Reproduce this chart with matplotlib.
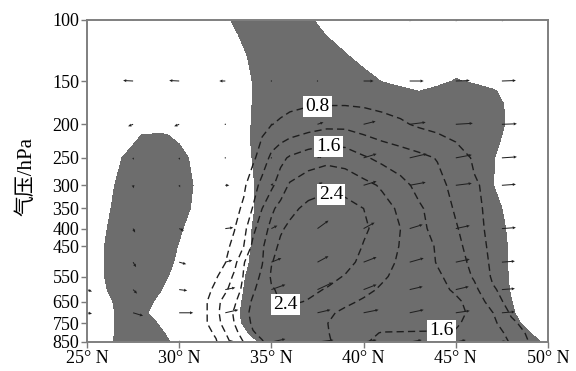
import numpy as np
import matplotlib
matplotlib.use("Agg")
import matplotlib.pyplot as plt

# ---- shaded field (gray where > 0) ----
shade_lat = list(range(25, 51))
shade_plev = [100, 110, 125, 135, 150, 160, 175, 200, 215, 250, 300, 350,
              400, 450, 500, 550, 600, 650, 700, 750, 800, 850]
shade_rows = [
    [-1]*7 + [-0.8, 0.2, 1, 1, 1, 0.3, -0.7] + [-1]*12,
    [-1]*8 + [-0.2, 0.8, 1, 1, 0.9, -0.1] + [-1]*12,
    [-1]*8 + [-0.65, 0.35, 1, 1, 1, 1, 0.05, -0.95] + [-1]*10,
    [-1]*8 + [-0.8, 0.2, 1, 1, 1, 1, 0.8, -0.2] + [-1]*10,
    [-1]*9 + [0.05] + [1]*5 + [0.9, -0.1, -1, -1, -0.8, 0.2, -0.4] + [-1]*4,
    [-1]*9 + [0.05] + [1]*7 + [0.7, -0.1, 0.7, 1, 1, 0.2, -0.8, -1, -1],
    [-1]*9 + [0.05] + [1]*12 + [0.6, -0.4, -1, -1],
    [-1]*8 + [-0.9, 0.1] + [1]*12 + [0.65, -0.35, -1, -1],
    [-1, -1, -0.9, 0.05, 0.2, -0.3, -1, -1, -0.85, 0.15] + [1]*12 + [0.5, -0.5, -1, -1],
    [-1, -0.9, 0.1, 1, 1, 0.5, -0.5, -1, -0.95, 0.05] + [1]*12 + [0.1, -0.9, -1, -1],
    [-1, -0.5, 0.5, 1, 1, 0.75, -0.25, -1, -1, -0.1, 0.9] + [1]*11 + [0.05, -0.95, -1, -1],
    [-1, -0.3, 0.7, 1, 1, 0.6, -0.4, -1, -1, -0.1, 0.9] + [1]*11 + [0.5, -0.5, -1, -1],
    [-1, -0.1, 0.9, 1, 1, 0.2, -0.8, -1, -0.95, 0.05] + [1]*12 + [0.7, -0.3, -1, -1],
    [-0.95, 0.05, 1, 1, 0.9, -0.1, -1, -1, -0.9, 0.1] + [1]*12 + [0.8, -0.2, -1, -1],
    [-0.95, 0.05, 1, 1, 0.7, -0.3, -1, -1, -0.8, 0.2] + [1]*12 + [0.8, -0.2, -1, -1],
    [-0.95, 0.05, 1, 1, 0.4, -0.6, -1, -1, -0.6, 0.4] + [1]*12 + [0.85, -0.15, -1, -1],
    [-1, -0.1, 0.9, 1, 0.05, -0.95, -1, -1, -0.5, 0.5] + [1]*12 + [0.9, -0.1, -1, -1],
    [-1, -0.4, 0.6, 0.6, -0.4, -1, -1, -1, -0.4, 0.6] + [1]*13 + [0.05, -0.95, -1],
    [-1, -0.5, 0.5, 0.3, -0.7, -1, -1, -1, -0.3, 0.7] + [1]*13 + [0.2, -0.8, -1],
    [-1, -0.5, 0.5, 0.8, -0.2, -1, -1, -1, -0.4, 0.6] + [1]*13 + [0.5, -0.5, -1],
    [-1, -0.5, 0.5, 1, 0.2, -0.8, -1, -1, -0.75, 0.25] + [1]*14 + [0.05, -0.95],
    [-1, -0.4, 0.6, 1, 0.5, -0.5, -1, -1, -1, -0.3, 0.7] + [1]*13 + [0.6, -0.4],
]

# ---- dashed contour field ----
dash_lat = [25, 27.5, 30, 31, 31.5, 32, 32.5, 33, 33.5, 34, 34.5, 35, 35.5, 36,
            37, 38, 39, 40, 41, 42, 43, 44, 45, 46, 47, 48, 49, 50]
dash_plev = [100, 150, 175, 200, 250, 300, 350, 400, 450, 500, 550, 600, 650,
             700, 750, 800, 850]
dash_rows = [
    [0.20, 0.20, 0.25, 0.25, 0.25, 0.25, 0.25, 0.30, 0.30, 0.30, 0.30, 0.35, 0.35, 0.35,
     0.40, 0.40, 0.40, 0.40, 0.35, 0.35, 0.30, 0.30, 0.30, 0.25, 0.25, 0.25, 0.20, 0.20],
    [0.20, 0.25, 0.30, 0.30, 0.30, 0.30, 0.35, 0.35, 0.40, 0.40, 0.45, 0.50, 0.50, 0.55,
     0.60, 0.62, 0.62, 0.60, 0.58, 0.55, 0.50, 0.45, 0.42, 0.40, 0.35, 0.30, 0.30, 0.25],
    [0.25, 0.30, 0.35, 0.35, 0.40, 0.40, 0.45, 0.45, 0.50, 0.55, 0.60, 0.65, 0.70, 0.73,
     0.77, 0.78, 0.78, 0.76, 0.72, 0.68, 0.62, 0.55, 0.50, 0.45, 0.40, 0.35, 0.30, 0.30],
    [0.25, 0.30, 0.35, 0.40, 0.42, 0.45, 0.50, 0.55, 0.60, 0.65, 0.72, 0.79, 0.85, 0.92,
     1.02, 1.10, 1.10, 1.02, 0.93, 0.85, 0.75, 0.68, 0.60, 0.55, 0.50, 0.45, 0.40, 0.35],
    [0.25, 0.30, 0.40, 0.45, 0.50, 0.55, 0.60, 0.65, 0.70, 0.74, 0.95, 1.30, 1.50, 1.65,
     1.82, 1.90, 1.85, 1.65, 1.50, 1.40, 1.30, 1.18, 1.00, 0.75, 0.62, 0.52, 0.45, 0.40],
    [0.25, 0.30, 0.40, 0.45, 0.50, 0.55, 0.60, 0.66, 0.74, 1.00, 1.35, 1.52, 1.80, 2.05,
     2.22, 2.30, 2.25, 2.12, 1.95, 1.72, 1.50, 1.32, 1.08, 0.84, 0.70, 0.58, 0.50, 0.45],
    [0.25, 0.30, 0.40, 0.47, 0.52, 0.58, 0.65, 0.70, 0.86, 1.23, 1.60, 1.93, 2.12, 2.30,
     2.50, 2.60, 2.55, 2.40, 2.15, 1.93, 1.65, 1.45, 1.15, 0.88, 0.70, 0.58, 0.50, 0.45],
    [0.25, 0.30, 0.42, 0.50, 0.56, 0.63, 0.70, 0.79, 1.08, 1.50, 1.83, 2.10, 2.35, 2.48,
     2.65, 2.70, 2.62, 2.45, 2.28, 2.00, 1.72, 1.45, 1.24, 0.94, 0.68, 0.58, 0.52, 0.47],
    [0.25, 0.30, 0.42, 0.52, 0.58, 0.65, 0.73, 0.88, 1.20, 1.70, 1.95, 2.25, 2.48, 2.58,
     2.70, 2.72, 2.60, 2.38, 2.20, 1.98, 1.78, 1.56, 1.32, 1.00, 0.70, 0.60, 0.52, 0.47],
    [0.25, 0.30, 0.45, 0.55, 0.62, 0.70, 0.79, 1.08, 1.58, 1.80, 1.98, 2.38, 2.52, 2.60,
     2.65, 2.60, 2.50, 2.32, 2.12, 1.95, 1.78, 1.58, 1.38, 1.08, 0.72, 0.60, 0.52, 0.47],
    [0.25, 0.30, 0.45, 0.58, 0.67, 0.77, 0.95, 1.28, 1.63, 1.83, 2.08, 2.45, 2.55, 2.60,
     2.58, 2.50, 2.38, 2.22, 2.05, 1.90, 1.78, 1.65, 1.48, 1.15, 0.75, 0.60, 0.52, 0.47],
    [0.25, 0.32, 0.48, 0.62, 0.72, 0.88, 1.13, 1.40, 1.70, 1.95, 2.15, 2.37, 2.45, 2.50,
     2.47, 2.38, 2.25, 2.10, 1.95, 1.85, 1.75, 1.68, 1.56, 1.30, 0.84, 0.65, 0.55, 0.50],
    [0.28, 0.35, 0.52, 0.68, 0.79, 1.07, 1.35, 1.55, 1.82, 2.05, 2.20, 2.32, 2.41, 2.45,
     2.38, 2.25, 2.08, 1.95, 1.85, 1.78, 1.72, 1.68, 1.65, 1.50, 0.98, 0.65, 0.58, 0.52],
    [0.30, 0.38, 0.55, 0.70, 0.79, 1.10, 1.40, 1.65, 1.90, 2.08, 2.20, 2.27, 2.30, 2.30,
     2.20, 2.07, 1.92, 1.85, 1.80, 1.76, 1.73, 1.70, 1.66, 1.55, 1.21, 0.75, 0.60, 0.55],
    [0.30, 0.40, 0.57, 0.70, 0.79, 1.05, 1.35, 1.61, 1.85, 2.05, 2.15, 2.20, 2.20, 2.18,
     2.12, 2.01, 1.85, 1.75, 1.70, 1.67, 1.65, 1.64, 1.63, 1.52, 1.30, 0.88, 0.65, 0.57],
    [0.30, 0.40, 0.55, 0.67, 0.72, 0.85, 1.19, 1.50, 1.75, 1.98, 2.06, 2.10, 2.12, 2.12,
     2.10, 2.03, 1.80, 1.65, 1.59, 1.59, 1.59, 1.59, 1.58, 1.50, 1.35, 1.10, 0.70, 0.60],
    [0.30, 0.40, 0.52, 0.62, 0.70, 0.77, 1.05, 1.35, 1.61, 1.90, 1.98, 2.10, 2.12, 2.12,
     2.10, 2.06, 1.82, 1.63, 1.52, 1.48, 1.47, 1.47, 1.46, 1.42, 1.33, 1.18, 0.78, 0.60],
]
dash_levels = [0.8, 1.2, 1.6, 2.0, 2.4]
label_levels = [0.8, 1.6, 2.4]
label_spots = [(37.5, 177), (38.1, 233), (38.2, 324), (35.6, 673), (44.3, 801)]

# ---- circulation vectors (meridional, vertical) ----
vec_lat = [25, 27.5, 30, 32.5, 35, 37.5, 40, 42.5, 45, 47.5, 50]
vec_plev = [100, 150, 200, 250, 300, 400, 500, 600, 700, 850]
nan = np.nan
vec_u = [
    [nan, -1, -1, -1, 1, 1, 1, 3, 3, 3, nan],
    [nan, -10, -10, -6, 0.5, 1, 10, 14, 14, 14, nan],
    [nan, -5, -5, 0, 1, 6, 12, 16, 17, 15, nan],
    [nan, 0.5, 0.5, 1, 1, 5, 13, 17, 16, 15, nan],
    [nan, 0.5, 1, 4, 2, 5, 13, 16, 16, 14, nan],
    [nan, 2, 5, 8, 6, 11, 11, 13, 14, 14, nan],
    [nan, 3, 7, 7, 10, 11, 13, 14, 14, 13, nan],
    [5, 4, 8, 10, 14, 15, 13, 13, 13, 13, nan],
    [5, 10, 14, 13, 15, 13, 15, 14, 14, 13, nan],
    [nan, 2, 3, 8, 14, 16, 13, 12, 10, 4, nan],
]
vec_w = [
    [nan, 0, 0, 0, 0, 0, 0, 0, 0, 0, nan],
    [nan, 0.5, 0.5, 0, 0, 0, 0, 0, 0.5, 0.5, nan],
    [nan, -2, -2, 0, 1, 2, 3, 2, 1, 0.5, nan],
    [nan, -2, -2, -1, 1, 2, 4, 4, 3, 1, nan],
    [nan, -3, -2, 0, 2, 3, 4, 3, 2, 1, nan],
    [nan, -4, -2, 1, 3, 8, 6, 4, 3, 1, nan],
    [nan, -5, -2, 2, 4, 6, 5, 4, 3, 1, nan],
    [-2, -4, -1, 2, 5, 7, 5, 3, 3, 1, nan],
    [-1, -3, 0, 3, 4, 3, 3, 3, 2, 1, nan],
    [nan, 0, 0, 1, 3, 2, 2, 2, 2, 1, nan],
]

xticks = [25, 30, 35, 40, 45, 50]
xticklabels = ["25° N", "30° N", "35° N", "40° N", "45° N", "50° N"]
yticks = [100, 150, 200, 250, 300, 350, 400, 450, 550, 650, 750, 850]

plt.rcParams["font.family"] = ["Liberation Serif", "Noto Sans CJK SC", "DejaVu Serif"]
plt.rcParams["lines.dashed_pattern"] = [5.2, 3.0]

fig = plt.figure(figsize=(5.76, 3.71), dpi=100)
ax = fig.add_axes([87 / 576, 1 - 342 / 371, 461 / 576, 322 / 371])

D = np.array(dash_rows)
ax.contourf(shade_lat, shade_plev, np.array(shade_rows), levels=[0, 5],
            colors=["#6d6d6d"], zorder=1)

ax.contour(dash_lat, dash_plev, D, levels=dash_levels,
           colors="#1e1e1e", linewidths=1.0, linestyles="dashed", zorder=2)
# labelled levels only (invisible lines) so clabel can snap to them
cs_lab = ax.contour(dash_lat, dash_plev, D, levels=label_levels,
                    colors="#1e1e1e", linewidths=0, zorder=2)
labels = ax.clabel(cs_lab, manual=label_spots, inline=False,
                   fmt="%.1f", fontsize=14, colors="black")
for t in labels:
    t.set_rotation(0)
    t.set_zorder(6)
    t.set_bbox(dict(boxstyle="square,pad=0.1", fc="white", ec="none"))

U = np.ma.masked_invalid(np.array(vec_u, dtype=float))
W = np.ma.masked_invalid(np.array(vec_w, dtype=float))
LON, LEV = np.meshgrid(vec_lat, vec_plev)
ax.quiver(LON, LEV, U, W, angles="uv", scale_units="dots", scale=1.0,
          pivot="tail", width=0.0022, headwidth=3.0, headlength=3.2,
          headaxislength=3.0, minlength=1.4, color="#202020", zorder=4)

ax.set_yscale("log")
ax.set_ylim(850, 100)
ax.set_xlim(25, 50)
ax.yaxis.set_minor_locator(matplotlib.ticker.NullLocator())
ax.set_yticks(yticks)
ax.set_yticklabels([str(v) for v in yticks], fontsize=13)
ax.set_xticks(xticks)
ax.set_xticklabels(xticklabels, fontsize=13)

ax.tick_params(direction="out", length=4, width=1, color="#7a7a7a", pad=1.5)
for sp in ax.spines.values():
    sp.set_color("#7f7f7f")
    sp.set_linewidth(1.4)
    sp.set_zorder(7)

ax.set_ylabel("气压/hPa", fontsize=15)
ax.yaxis.set_label_coords(-0.11, 0.515)

fig.savefig("out.png", dpi=100)
